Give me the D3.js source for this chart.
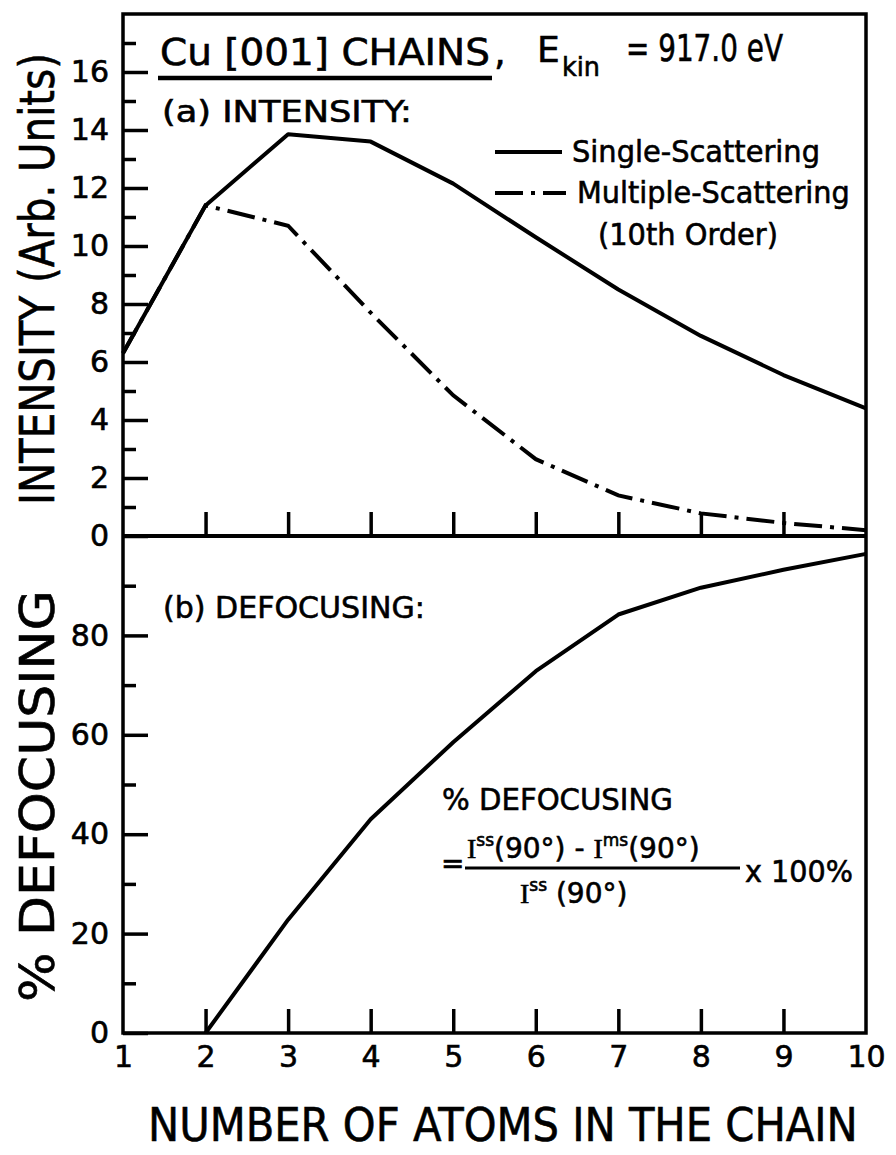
<!DOCTYPE html>
<html>
<head>
<meta charset="utf-8">
<script src="https://cdn.jsdelivr.net/npm/d3@7"></script>
<style>
  body { margin: 0; background: #fff; }
  svg { display: block; }
  text { font-family: "DejaVu Sans", "Liberation Sans", sans-serif; fill: #000; stroke: #000; stroke-width: 0.6px; }
</style>
</head>
<body>
<div id="chart"></div>
<script>
// chain length (number of atoms)
var atoms = [1, 2, 3, 4, 5, 6, 7, 8, 9, 10];
// forward-scattering intensity, arb. units
var singleScattering   = [6.3, 11.4, 13.85, 13.6, 12.15, 10.3, 8.5, 6.9, 5.55, 4.4];
var multipleScattering = [6.3, 11.4, 10.7, 7.7, 4.85, 2.65, 1.4, 0.78, 0.45, 0.2];
// percent defocusing (starts at 2 atoms)
var defocusAtoms = [2, 3, 4, 5, 6, 7, 8, 9, 10];
var defocusing   = [0, 22.8, 43, 58.5, 72.8, 84.2, 89.6, 93.2, 96.4];

var topTicks = [0, 2, 4, 6, 8, 10, 12, 14, 16];
var topMinor = [1, 3, 5, 7, 9, 11, 13, 15, 17];
var botTicks = [0, 20, 40, 60, 80];
var botMinor = [10, 30, 50, 70, 90];

var W = 896, H = 1155;
var pLeft = 123, pRight = 866, pTop = 14, pMid = 536, pBottom = 1033;

var svg = d3.select('#chart').append('svg')
  .attr('width', W).attr('height', H);

var x = d3.scaleLinear().domain([1, 10]).range([pLeft, pRight]);
var yTop = d3.scaleLinear().domain([0, 18]).range([pMid, pTop]);
var yBot = d3.scaleLinear().domain([0, 100]).range([pBottom, pMid]);

function styleAxis(g) {
  g.select('.domain').remove();
  g.selectAll('.tick line').attr('stroke', '#000').attr('stroke-width', 3.5);
  g.selectAll('.tick text')
    .style('font-size', '30px')
    .style('font-family', '"DejaVu Sans", sans-serif')
    .attr('fill', '#000');
}

// ---- left axes, ticks pointing inward ----
svg.append('g').attr('transform', 'translate(' + pLeft + ',0)')
  .call(d3.axisLeft(yTop).tickValues(topTicks).tickSize(-25).tickPadding(14))
  .call(styleAxis);
svg.append('g').attr('transform', 'translate(' + pLeft + ',0)')
  .call(d3.axisLeft(yTop).tickValues(topMinor).tickSize(-13).tickFormat(''))
  .call(styleAxis);
svg.append('g').attr('transform', 'translate(' + pLeft + ',0)')
  .call(d3.axisLeft(yBot).tickValues(botTicks).tickSize(-25).tickPadding(14))
  .call(styleAxis);
svg.append('g').attr('transform', 'translate(' + pLeft + ',0)')
  .call(d3.axisLeft(yBot).tickValues(botMinor).tickSize(-13).tickFormat(''))
  .call(styleAxis);

// ---- bottom axes of both panels ----
svg.append('g').attr('transform', 'translate(0,' + pMid + ')')
  .call(d3.axisBottom(x).tickValues(atoms.slice(1, 9)).tickSize(-24).tickFormat(''))
  .call(styleAxis);
svg.append('g').attr('transform', 'translate(0,' + pBottom + ')')
  .call(d3.axisBottom(x).tickValues(atoms.slice(1, 9)).tickSize(-24).tickFormat(''))
  .call(styleAxis);
svg.append('g').attr('transform', 'translate(0,' + pBottom + ')')
  .call(d3.axisBottom(x).tickValues(atoms).tickSize(0).tickPadding(13))
  .call(styleAxis);

// frame + panel divider
svg.append('rect')
  .attr('x', pLeft).attr('y', pTop)
  .attr('width', pRight - pLeft).attr('height', pBottom - pTop)
  .attr('fill', 'none').attr('stroke', '#000').attr('stroke-width', 3.5);
svg.append('line')
  .attr('x1', pLeft).attr('x2', pRight).attr('y1', pMid).attr('y2', pMid)
  .attr('stroke', '#000').attr('stroke-width', 4);

// ---- curves ----
var lineTop = d3.line().x(function(d){return x(d[0]);}).y(function(d){return yTop(d[1]);});
var lineBot = d3.line().x(function(d){return x(d[0]);}).y(function(d){return yBot(d[1]);});

svg.append('path')
  .datum(d3.zip(atoms, singleScattering))
  .attr('d', lineTop)
  .attr('fill', 'none').attr('stroke', '#000').attr('stroke-width', 4)
  .attr('stroke-linejoin', 'round');
svg.append('path')
  .datum(d3.zip(atoms, multipleScattering))
  .attr('d', lineTop)
  .attr('fill', 'none').attr('stroke', '#000').attr('stroke-width', 4)
  .attr('stroke-dasharray', '28,8,4,8');
svg.append('path')
  .datum(d3.zip(defocusAtoms, defocusing))
  .attr('d', lineBot)
  .attr('fill', 'none').attr('stroke', '#000').attr('stroke-width', 4)
  .attr('stroke-linejoin', 'round');

// ---- labels ----
// text squeezed horizontally to a given width (rot = -90 for vertical titles)
function label(txt, px, py, size, len, rot) {
  var t = svg.append('text').attr('x', 0).attr('y', 0)
    .style('font-size', size + 'px').text(txt);
  var k = len ? len / t.node().getComputedTextLength() : 1;
  t.attr('transform', 'translate(' + px + ',' + py + ')' +
    (rot ? ' rotate(' + rot + ')' : '') + ' scale(' + k + ',1)');
  return t;
}

label('Cu [001] CHAINS', 160, 65, 37, 330);
label(',', 494, 65, 37);
svg.append('line').attr('x1', 158).attr('x2', 492).attr('y1', 78).attr('y2', 78)
  .attr('stroke', '#000').attr('stroke-width', 4.5);
label('E', 537, 62, 36);
label('kin', 562, 76, 26, 38);
label('= 917.0 eV', 626, 61, 37, 157);

label('(a) INTENSITY:', 162, 122, 30, 250);
svg.append('line').attr('x1', 495).attr('x2', 562).attr('y1', 152).attr('y2', 152)
  .attr('stroke', '#000').attr('stroke-width', 4);
label('Single-Scattering', 572, 162, 30, 248);
svg.append('line').attr('x1', 495).attr('x2', 566).attr('y1', 193).attr('y2', 193)
  .attr('stroke', '#000').attr('stroke-width', 4).attr('stroke-dasharray', '28,8,4,8');
label('Multiple-Scattering', 577, 203, 30, 273);
label('(10th Order)', 598, 245, 30, 180);

label('(b) DEFOCUSING:', 163, 618, 30, 262);
label('% DEFOCUSING', 442, 810, 30, 231);

// defocusing formula
label('=', 441, 873, 28);
var num = svg.append('text').attr('x', 467).attr('y', 858).style('font-size', '28px');
num.append('tspan').style('font-family', '"Liberation Serif", serif').text('I');
num.append('tspan').attr('dy', -12).style('font-size', '17px').text('ss');
num.append('tspan').attr('dy', 12).text('(90°) - ');
num.append('tspan').style('font-family', '"Liberation Serif", serif').text('I');
num.append('tspan').attr('dy', -12).style('font-size', '17px').text('ms');
num.append('tspan').attr('dy', 12).text('(90°)');
svg.append('line').attr('x1', 465).attr('x2', 740).attr('y1', 868).attr('y2', 868)
  .attr('stroke', '#000').attr('stroke-width', 3);
var den = svg.append('text').attr('x', 520).attr('y', 903).style('font-size', '28px');
den.append('tspan').style('font-family', '"Liberation Serif", serif').text('I');
den.append('tspan').attr('dy', -12).style('font-size', '17px').text('ss');
den.append('tspan').attr('dy', 12).text(' (90°)');
label('x 100%', 745, 882, 30, 108);

// axis titles
label('INTENSITY (Arb. Units)', 54, 505, 48, 452, -90);
label('% DEFOCUSING', 54, 1002, 48, 412, -90);
label('NUMBER OF ATOMS IN THE CHAIN', 148, 1141, 46, 710);
</script>
</body>
</html>
